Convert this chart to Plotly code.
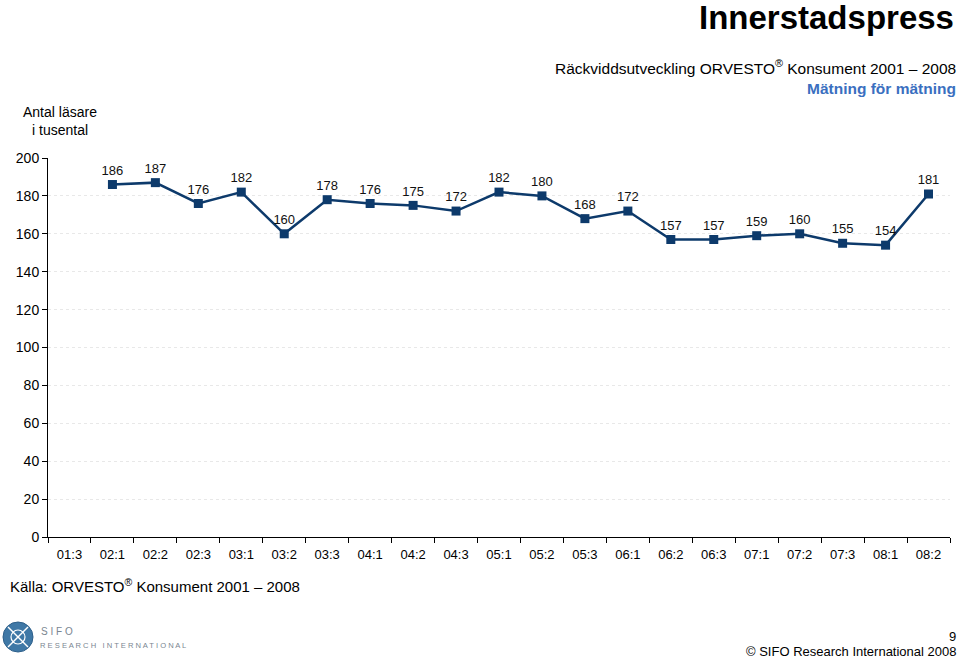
import plotly.graph_objects as go

categories = ["01:3", "02:1", "02:2", "02:3", "03:1", "03:2", "03:3", "04:1", "04:2", "04:3",
              "05:1", "05:2", "05:3", "06:1", "06:2", "06:3", "07:1", "07:2", "07:3", "08:1", "08:2"]
readers = [None, 186, 187, 176, 182, 160, 178, 176, 175, 172, 182, 180, 168, 172,
           157, 157, 159, 160, 155, 154, 181]
y_ticks = [0, 20, 40, 60, 80, 100, 120, 140, 160, 180, 200]

W, H = 960, 658
L, R, T, B = 48, 950, 158, 537
FONT = "Arial, Liberation Sans, sans-serif"
NAVY = "#0d3a6b"


def px(x):
    return (x - L) / (R - L)


def py(y):
    return (B - y) / (B - T)


fig = go.Figure()
fig.add_trace(go.Scatter(
    x=categories, y=readers, mode="lines+markers+text",
    line=dict(color=NAVY, width=2.5),
    marker=dict(symbol="square", size=9, color=NAVY),
    text=[("" if v is None else str(v)) for v in readers],
    textposition="top center",
    textfont=dict(family=FONT, size=13, color="#111"),
    connectgaps=False, hoverinfo="x+y", cliponaxis=False,
))

annos = []


def add_text(x, y, text, size, color="#000", xanchor="left", bold=False, yanchor="middle"):
    if bold:
        text = "<b>" + text + "</b>"
    annos.append(dict(x=px(x), y=py(y), xref="paper", yref="paper", text=text,
                      showarrow=False, xanchor=xanchor, yanchor=yanchor,
                      font=dict(family=FONT, size=size, color=color)))


add_text(956, 17, "Innerstadspress", 33, bold=True, xanchor="right")
add_text(958, 67, "Räckviddsutveckling ORVESTO<sup>®</sup> Konsument 2001 – 2008", 15.5, xanchor="right")
add_text(958, 88, "Mätning för mätning", 15.5, color="#3a6fc0", bold=True, xanchor="right")
add_text(60, 112, "Antal läsare", 14, xanchor="center")
add_text(60, 130, "i tusental", 14, xanchor="center")
add_text(8, 585, "Källa: ORVESTO<sup>®</sup> Konsument 2001 – 2008", 15)
add_text(39, 631, "S I F O", 10, color="#7a8691")
add_text(38, 645, "R E S E A R C H   I N T E R N A T I O N A L", 7.6, color="#7a8691")
add_text(958, 636, "9", 13, xanchor="right")
add_text(958, 651, "© SIFO Research International 2008", 13, xanchor="right")

shapes = [
    dict(type="circle", xref="paper", yref="paper", x0=px(3), x1=px(33), y0=py(652), y1=py(622),
         fillcolor="#3f78a6", line=dict(color="#2d5f8a", width=1)),
    dict(type="line", xref="paper", yref="paper", x0=px(8), x1=px(28), y0=py(627), y1=py(647),
         line=dict(color="white", width=1.5)),
    dict(type="line", xref="paper", yref="paper", x0=px(8), x1=px(28), y0=py(647), y1=py(627),
         line=dict(color="white", width=1.5)),
    dict(type="circle", xref="paper", yref="paper", x0=px(11), x1=px(25), y0=py(644), y1=py(630),
         fillcolor="rgba(0,0,0,0)", line=dict(color="white", width=1.2)),
]

fig.update_layout(
    width=W, height=H,
    margin=dict(l=L, r=W - R, t=T, b=H - B),
    paper_bgcolor="white", plot_bgcolor="white",
    showlegend=False,
    annotations=annos, shapes=shapes,
    font=dict(family=FONT, color="#000"),
    xaxis=dict(type="category", categoryorder="array", categoryarray=categories,
               range=[-0.5, len(categories) - 0.5],
               showline=True, linecolor="#000", linewidth=1,
               ticks="outside", ticklen=5, tickcolor="#000", tickson="boundaries",
               ticklabelstandoff=5,
               tickfont=dict(family=FONT, size=13, color="#000"),
               showgrid=False, zeroline=False, fixedrange=True),
    yaxis=dict(range=[0, 200], tickvals=y_ticks,
               showline=True, linecolor="#000", linewidth=1,
               ticks="outside", ticklen=5, tickcolor="#000",
               tickfont=dict(family=FONT, size=14, color="#000"),
               showgrid=True, gridcolor="#e8e8e8", griddash="dot", gridwidth=1,
               zeroline=False, fixedrange=True),
)

fig.write_html("out.html", config={"displayModeBar": False},
               post_script="document.body.style.margin='0';document.body.style.overflow='hidden';")
